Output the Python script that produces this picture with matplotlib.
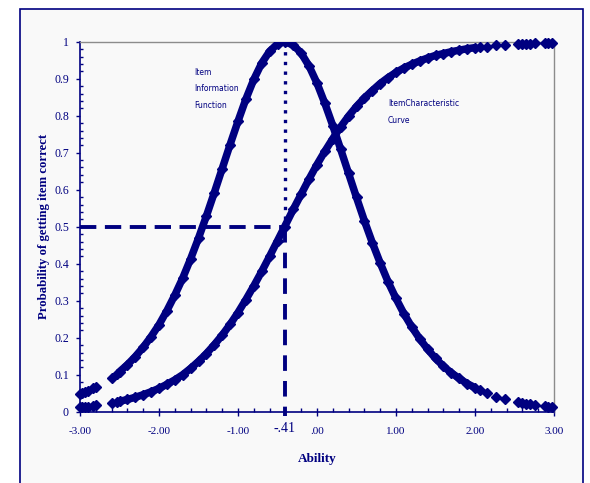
import numpy as np
import matplotlib.pyplot as plt
from matplotlib.patches import Rectangle
from matplotlib.ticker import MultipleLocator

NAVY = '#000080'
GREY = '#8c8c8c'
BG = '#f9f9f9'

# dense part of the two curves (ability, ICC probability, item information)
ability = [-2.5, -2.4, -2.3, -2.2, -2.1, -2.0, -1.9, -1.8, -1.7, -1.6,
           -1.5, -1.4, -1.3, -1.2, -1.1, -1.0, -0.9, -0.8, -0.7, -0.6,
           -0.5, -0.41, -0.3, -0.2, -0.1, 0.0, 0.1, 0.2, 0.3, 0.4,
           0.5, 0.6, 0.7, 0.8, 0.9, 1.0, 1.1, 1.2, 1.3, 1.4,
           1.5, 1.6, 1.7, 1.8, 1.9, 2.0]
icc = [0.028, 0.033, 0.039, 0.046, 0.054, 0.063, 0.074, 0.086, 0.100, 0.117,
       0.136, 0.157, 0.181, 0.207, 0.236, 0.268, 0.303, 0.340, 0.379, 0.420,
       0.462, 0.500, 0.547, 0.588, 0.629, 0.668, 0.704, 0.738, 0.770, 0.799,
       0.825, 0.848, 0.868, 0.887, 0.903, 0.917, 0.929, 0.939, 0.948, 0.956,
       0.963, 0.968, 0.973, 0.977, 0.981, 0.984]
info = [0.108, 0.127, 0.149, 0.174, 0.203, 0.235, 0.273, 0.315, 0.361, 0.413,
        0.469, 0.529, 0.592, 0.657, 0.722, 0.785, 0.845, 0.898, 0.942, 0.974,
        0.994, 1.000, 0.991, 0.969, 0.934, 0.888, 0.833, 0.773, 0.709, 0.644,
        0.579, 0.516, 0.457, 0.402, 0.351, 0.306, 0.265, 0.229, 0.197, 0.169,
        0.144, 0.123, 0.105, 0.090, 0.076, 0.065]

# sparse examinees in the tails
tail_ability = [-3.0, -2.97, -2.94, -2.90, -2.83, -2.80, -2.60, -2.53,
                2.06, 2.15, 2.27, 2.38, 2.55, 2.60, 2.65, 2.70, 2.76,
                2.89, 2.93, 2.97]
tail_icc = [0.012, 0.013, 0.013, 0.014, 0.016, 0.017, 0.024, 0.027,
            0.985, 0.987, 0.990, 0.991, 0.994, 0.994, 0.995, 0.995, 0.996,
            0.996, 0.997, 0.997]
tail_info = [0.048, 0.050, 0.053, 0.056, 0.063, 0.067, 0.092, 0.103,
             0.058, 0.050, 0.041, 0.034, 0.026, 0.024, 0.022, 0.020, 0.018,
             0.015, 0.014, 0.013]

x_ticks = [-3, -2, -1, 0, 1, 2, 3]
x_ticklabels = ['-3.00', '-2.00', '-1.00', '.00', '1.00', '2.00', '3.00']
y_ticks = [0, 0.1, 0.2, 0.3, 0.4, 0.5, 0.6, 0.7, 0.8, 0.9, 1.0]
y_ticklabels = ['0', '0.1', '0.2', '0.3', '0.4', '0.5', '0.6', '0.7', '0.8',
                '0.9', '1']
b_value = -0.41
SERIF = ['Liberation Serif', 'DejaVu Serif']

fig = plt.figure(figsize=(5.9, 4.83), dpi=100)
fig.patch.set_facecolor('white')
frame = Rectangle((20 / 590, -0.1), 563 / 590, 1.1 - 9 / 483,
                  transform=fig.transFigure, facecolor=BG,
                  edgecolor=NAVY, lw=1.2, zorder=-5)
fig.add_artist(frame)

ax = fig.add_axes([80 / 590, 1 - 411.7 / 483, 474 / 590, 370 / 483])
ax.set_facecolor('none')
ax.set_zorder(2)

for yy in (icc, info):
    ax.plot(ability, yy, color=NAVY, lw=5.4, marker='D', ms=4.6,
            solid_capstyle='round', zorder=3)
for yy in (tail_icc, tail_info):
    ax.plot(tail_ability, yy, ls='none', color=NAVY, marker='D', ms=5,
            clip_on=False, zorder=3)

# guides at the item difficulty
ax.plot([-3, b_value], [0.5, 0.5], color=NAVY, lw=2.8, ls=(0, (4.2, 2.2)),
        zorder=2)
ax.plot([b_value, b_value], [1.0, 0.5], color=NAVY, lw=2.4,
        ls=(0, (1, 1.9)), zorder=2)
ax.plot([b_value, b_value], [0.5, -0.012], color=NAVY, lw=2.8,
        ls=(0, (4, 2.6)), clip_on=False, zorder=2)

ax.set_xlim(-3, 3)
ax.set_ylim(0, 1)
ax.set_xticks(x_ticks)
ax.set_xticklabels(x_ticklabels)
ax.set_yticks(y_ticks)
ax.set_yticklabels(y_ticklabels)
ax.xaxis.set_minor_locator(MultipleLocator(0.2))
ax.yaxis.set_minor_locator(MultipleLocator(0.02))
ax.tick_params(axis='x', which='major', direction='inout', length=6,
               width=1, color=NAVY, labelcolor=NAVY, labelsize=8, pad=8)
ax.tick_params(axis='x', which='minor', direction='in', length=3,
               width=1, color=NAVY)
ax.tick_params(axis='y', which='major', direction='out', length=3,
               width=1, color=NAVY, labelcolor=NAVY, labelsize=8.5, pad=5)
ax.tick_params(axis='y', which='minor', direction='in', length=2,
               width=1, color=NAVY)
for lab in ax.get_xticklabels() + ax.get_yticklabels():
    lab.set_family(SERIF)

for side in ('left', 'bottom'):
    ax.spines[side].set_color(NAVY)
    ax.spines[side].set_linewidth(1.2)
for side in ('top', 'right'):
    ax.spines[side].set_color(GREY)
    ax.spines[side].set_linewidth(1)

ax.text(b_value, -0.028, '-.41', transform=ax.get_xaxis_transform(),
        ha='center', va='top', color=NAVY, fontsize=10, family=SERIF)

ax.set_xlabel('Ability', family=SERIF, fontweight='bold', fontsize=9.5,
              color=NAVY, labelpad=12)
ax.set_ylabel('Probability of getting item correct', family=SERIF,
              fontweight='bold', fontsize=9.2, color=NAVY, labelpad=3)

ax.text(-1.55, 0.93, 'Item\nInformation\nFunction', fontsize=5.5,
        color=NAVY, va='top', linespacing=2.1, family='DejaVu Sans')
ax.text(0.9, 0.845, 'ItemCharacteristic\nCurve', fontsize=5.5,
        color=NAVY, va='top', linespacing=2.1, family='DejaVu Sans')

fig.savefig('out.png', dpi=100)
